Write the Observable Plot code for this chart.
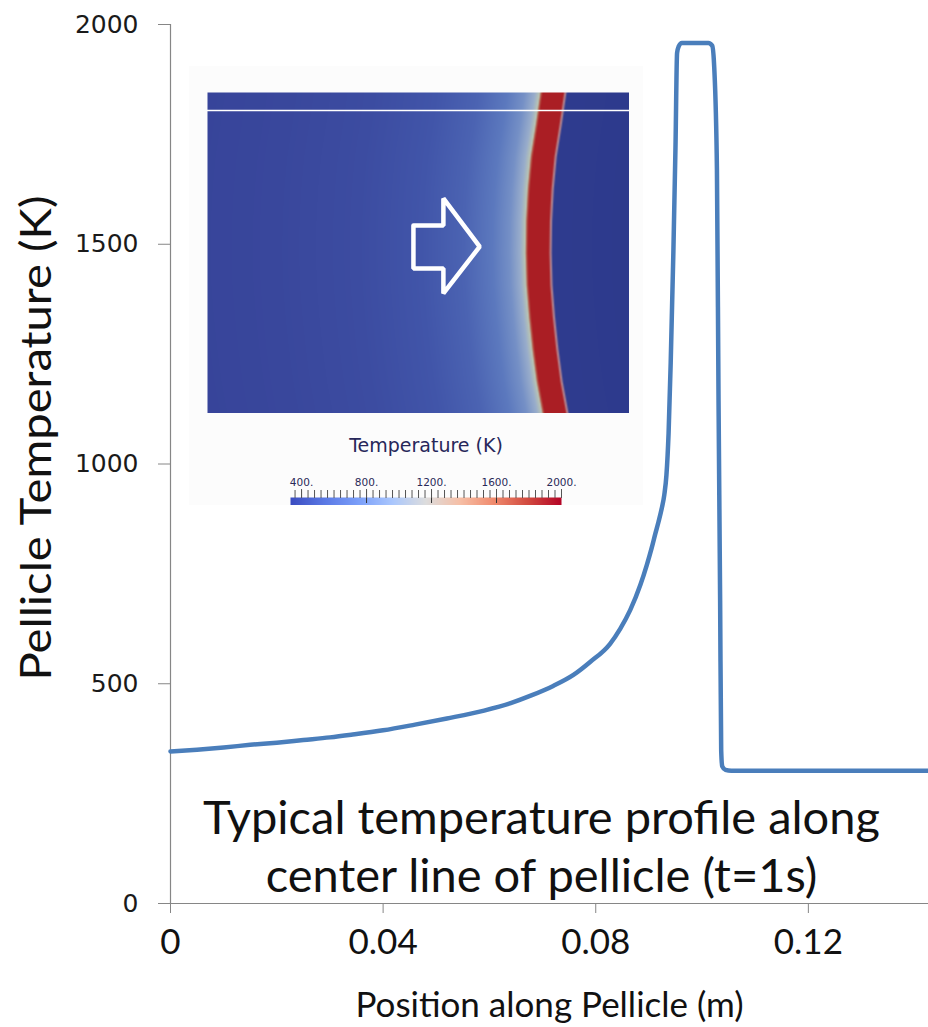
<!DOCTYPE html>
<html><head><meta charset="utf-8">
<script src="https://cdn.jsdelivr.net/npm/d3@7"></script>
<script src="https://cdn.jsdelivr.net/npm/@observablehq/plot@0.6"></script>
<style>
body{margin:0;background:#fff;}
#wrap{position:relative;width:928px;height:1027px;overflow:hidden;}
#main{position:absolute;left:0;top:0;}
#inset{position:absolute;left:189px;top:66px;width:454px;height:439px;background:#fcfcfc;overflow:hidden;}
#field{position:absolute;left:18px;top:26px;}
#bar{position:absolute;left:81px;top:364px;}
svg{display:block;}
</style></head><body><div id="wrap"><div id="main"></div><div id="inset"><div id="field"></div><div id="bar"></div></div></div>
<script>
// ---- main series: temperature along the pellicle centre line ----
const posX = [0, 0.005, 0.010, 0.015, 0.020, 0.025, 0.030, 0.034, 0.040, 0.046, 0.052, 0.059, 0.064, 0.068, 0.072, 0.0758, 0.079, 0.0827, 0.0846, 0.0865, 0.0884, 0.0896, 0.0905, 0.0912, 0.0918, 0.0924, 0.0929, 0.0933, 0.0937, 0.0941, 0.0946, 0.0950, 0.0953, 0.0956, 0.0962, 0.1012, 0.1019, 0.1023, 0.1028, 0.1031, 0.1034, 0.1036, 0.1038, 0.1044, 0.1055, 0.1426];
const tempK = [346, 350, 355, 361, 366, 372, 378, 384, 394, 407, 421, 439, 456, 474, 495, 520, 550, 591, 625, 668, 725, 770, 808, 841, 868, 898, 930, 975, 1069, 1230, 1480, 1720, 1935, 1950, 1958, 1958, 1952, 1900, 1668, 1145, 689, 348, 312, 304, 302, 302];

const xTicks = [0, 0.04, 0.08, 0.12];
const yTicks = [0, 500, 1000, 1500, 2000];
const xTitle = "Position along Pellicle (m)";
const yTitle = "Pellicle Temperature (K)";
const note = "Typical temperature profile along\ncenter line of pellicle (t=1s)";

// ---- inset (2-D temperature field snapshot) ----
const frontV = [0, 0.1, 0.2, 0.3, 0.4, 0.5, 0.6, 0.7, 0.8, 0.9, 1];                               // row (fraction from top)
const frontU = [0.791, 0.780, 0.768, 0.761, 0.757, 0.756, 0.758, 0.764, 0.772, 0.782, 0.796];      // left edge of hot band
const fieldOffsets = [-0.80, -0.60, -0.40, -0.25, -0.15, -0.08, -0.04, -0.015, -0.004, 0.0, 0.004, 0.052, 0.057, 0.062, 0.25];
const fieldColors = ["#37449a", "#39479c", "#3c4ca1", "#4155a9", "#4b63b2", "#5c79be", "#7590c6", "#99adcb", "#b8c4b4", "#b45a4a", "#aa1e24", "#aa1e24", "#b88890", "#2e3b8e", "#2d3a8c"];
const cutRow = [0.056];
const arrowU = [0.488, 0.559, 0.559, 0.645, 0.559, 0.559, 0.488, 0.488];
const arrowV = [0.414, 0.414, 0.330, 0.480, 0.626, 0.548, 0.548, 0.414];
const insetTitle = "Temperature (K)";
const barTemps = [332, 535, 750, 960, 1166, 1375, 1580, 1790, 2000];
const barColors = ["#3b4cc0", "#5a78e4", "#7b9ff9", "#aac7fd", "#dddddd", "#f6bfa6", "#f08b6e", "#d24b40", "#b40426"];
const barMajor = [400, 800, 1200, 1600, 2000];
const barMinor = d3.range(360, 2001, 40);

const profile = posX.map((x, i) => ({x, t: tempK[i]}));
const axisGrey = "#868686";

const main = Plot.plot({
  width: 928, height: 1027,
  marginLeft: 170, marginRight: 0, marginTop: 24, marginBottom: 124,
  style: {fontFamily: "Lato", background: "transparent", color: "#111"},
  x: {domain: [0, 0.1426]},
  y: {domain: [0, 2000]},
  marks: [
    Plot.axisY(yTicks, {tickSize: 12, tickPadding: 20, fontSize: 25, fontFamily: "DejaVu Sans", stroke: axisGrey, fill: "#1a1a1a", label: null, tickFormat: d => String(d)}),
    Plot.axisX(xTicks, {tickSize: 10, tickPadding: 16, fontSize: 35, stroke: axisGrey, fill: "#111", label: null, tickFormat: d => d === 0 ? "0" : String(d)}),
    Plot.ruleY([0], {stroke: axisGrey, strokeWidth: 1.2}),
    Plot.ruleX([0], {stroke: axisGrey, strokeWidth: 1.2}),
    Plot.line(profile, {x: "x", y: "t", stroke: "#4a7ebb", strokeWidth: 4.5, strokeLinejoin: "round", curve: "monotone-x"}),
    Plot.text([yTitle], {frameAnchor: "left", textAnchor: "middle", lineAnchor: "middle", rotate: -90, dx: -133, dy: -26, fontSize: 42, fill: "#111"}),
    Plot.text([xTitle], {frameAnchor: "bottom", lineAnchor: "middle", dy: 102, fontSize: 35, fill: "#111"}),
    Plot.text([note], {frameAnchor: "bottom", lineAnchor: "middle", dx: -8, dy: -59, fontSize: 47, lineHeight: 1.23, fill: "#111"})
  ]
});
document.getElementById("main").append(main);
// tick label face and the condensed y title
d3.select(main).selectAll("g[aria-label='y-axis tick label']").attr("font-family", "DejaVu Sans");
d3.select(main).selectAll("text").filter(function () { return this.textContent === yTitle; })
  .attr("textLength", 485).attr("lengthAdjust", "spacingAndGlyphs");

const frontAt = d3.scaleLinear().domain(frontV).range(frontU);
const arrow = arrowU.map((u, i) => ({u, v: arrowV[i]}));
const field = Plot.plot({
  width: 422, height: 321, margin: 0,
  style: {background: "transparent"},
  x: {domain: [0, 1], axis: null},
  y: {domain: [0, 1], reverse: true, axis: null},
  color: {type: "linear", domain: fieldOffsets, range: fieldColors, clamp: true},
  marks: [
    Plot.raster({fill: (u, v) => u - frontAt(v), x1: 0, x2: 1, y1: 0, y2: 1, width: 422, height: 321, imageRendering: "auto"}),
    Plot.ruleY(cutRow, {stroke: "white", strokeWidth: 1.5}),
    Plot.line(arrow, {x: "u", y: "v", stroke: "white", strokeWidth: 4.5, strokeLinejoin: "miter"})
  ]
});
document.getElementById("field").append(field);

const bar = Plot.plot({
  width: 320, height: 76,
  marginLeft: 20, marginRight: 29, marginTop: 67, marginBottom: 0,
  style: {background: "transparent", fontFamily: "DejaVu Sans"},
  x: {domain: [332, 2000]},
  y: {domain: [0, 1], axis: null},
  color: {type: "linear", domain: barTemps, range: barColors},
  marks: [
    Plot.raster({fill: (x, y) => x, x1: 332, x2: 2000, y1: 0, y2: 1, width: 271, height: 1, imageRendering: "auto"}),
    Plot.tickX([800, 1200, 1600], {stroke: "#333", insetBottom: 3}),
    Plot.axisX(barMinor, {anchor: "top", tickSize: 8, stroke: "#555", tickFormat: () => "", label: null}),
    Plot.axisX(barMajor, {anchor: "top", tickSize: 9, tickPadding: 3, stroke: "#555", fill: "#2a2a58", fontSize: 10.5, tickFormat: d => d + ".", label: null}),
    Plot.text([insetTitle], {frameAnchor: "top", lineAnchor: "middle", dy: -52, fontSize: 19, fill: "#27275a"})
  ]
});
document.getElementById("bar").append(bar);
</script></body></html>
